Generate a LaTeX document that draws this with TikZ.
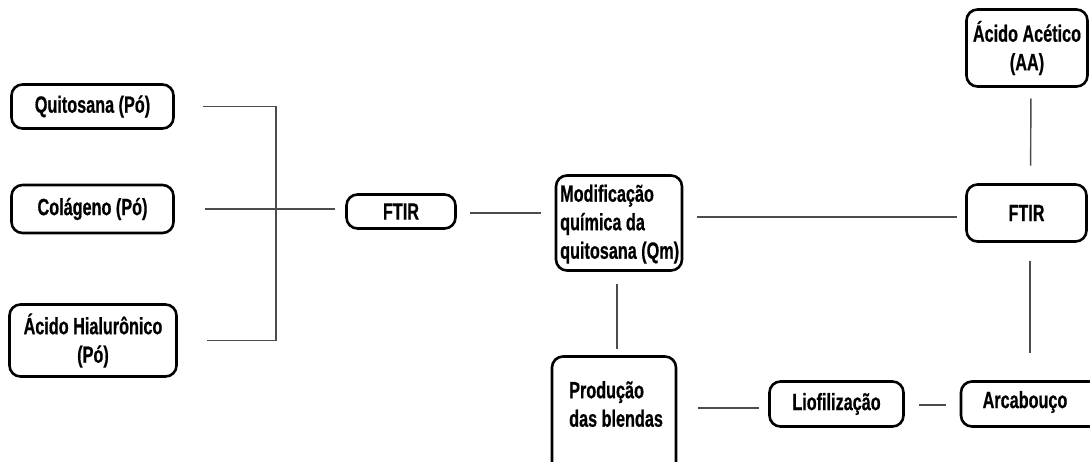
\documentclass[tikz,border=0pt]{standalone}
\usepackage{fontspec}
\setmainfont[FakeStretch=0.69, BoldFeatures={FakeBold=0.6}]{Liberation Sans}
\begin{document}
\begin{tikzpicture}[x=1pt,y=-1pt,
  box/.style={draw=black, line width=2.6pt, rounded corners=11pt, inner sep=0pt,
    font=\bfseries\fontsize{23.5}{28.5}\selectfont, align=center},
  txt/.style={inner sep=0pt, font=\bfseries\fontsize{23.5}{28.5}\selectfont, align=left},
  conn/.style={draw=black!70, line width=1.4pt}]
\useasboundingbox (0,0) rectangle (1090,461);
% boxes
\node[box, minimum width=162pt, minimum height=44pt] (qui) at (92.5,106.5) {Quitosana (Pó)};
\node[box, minimum width=162pt, minimum height=48pt] (col) at (92.5,209) {Colágeno (Pó)};
\node[box, minimum width=167pt, minimum height=72pt] (hia) at (93,340.5) {Ácido Hialurônico\\(Pó)};
\node[box, minimum width=109pt, minimum height=34pt] (ftirL) at (401,211.5) {FTIR};
\node[box, minimum width=126pt, minimum height=95pt] (mod) at (619,223) {};
\node[txt, anchor=north west] (modtxt) at (560,184.5) {Modificação\\química da\\quitosana (Qm)};
\node[box, minimum width=120pt, minimum height=57pt] (ftirR) at (1026.5,213) {FTIR};
\node[box, minimum width=121pt, minimum height=77pt] (aa) at (1027,48) {Ácido Acético\\(AA)};
\node[box, minimum width=148pt, minimum height=45pt] (arc) at (1035,404) {};
\node[txt] (arctxt) at (1025,402) {Arcabouço};
\node[box, minimum width=134pt, minimum height=45pt] (lio) at (836.5,404) {Liofilização};
\node[box, minimum width=124pt, minimum height=140pt] (prod) at (614,426.5) {};
\node[txt, anchor=north west] (prodtxt) at (569,381) {Produção\\das blendas};
% connectors
\coordinate (br) at (276,210);
\draw[conn] ([xshift=28pt]qui.east) -- (qui.east -| br) -- (hia.east -| br) -- ([xshift=29pt]hia.east);
\draw[conn] ([xshift=30pt]col.east) -- ([xshift=-10pt]col.east -| ftirL.west);
\draw[conn] ([xshift=13pt,yshift=-1.5pt]ftirL.east) -- ([xshift=-14pt,yshift=-1.5pt]ftirL.east -| mod.west);
\draw[conn] ([xshift=14pt,yshift=6pt]mod.east) -- ([xshift=-8pt,yshift=6pt]mod.east -| ftirR.west);
\draw[conn, shorten <=10.5pt, shorten >=17.5pt] ([xshift=4pt]aa.south) -- ([xshift=4pt]ftirR.north);
\draw[conn, shorten <=18.5pt, shorten >=27.5pt] ([xshift=3.5pt]ftirR.south) -- ([xshift=3.5pt]ftirR.south |- arc.north);
\draw[conn, shorten <=12.5pt, shorten >=6.5pt] ([xshift=-2pt]mod.south) -- ([xshift=-2pt]mod.south |- prod.north);
\draw[conn, shorten <=21pt, shorten >=9.5pt] ([yshift=-4pt]prod.east |- lio.west) -- ([yshift=-4pt]lio.west);
\draw[conn, shorten <=14.5pt, shorten >=13.5pt] ([yshift=-1pt]lio.east) -- ([yshift=-1pt]lio.east -| arc.west);
\end{tikzpicture}
\end{document}
